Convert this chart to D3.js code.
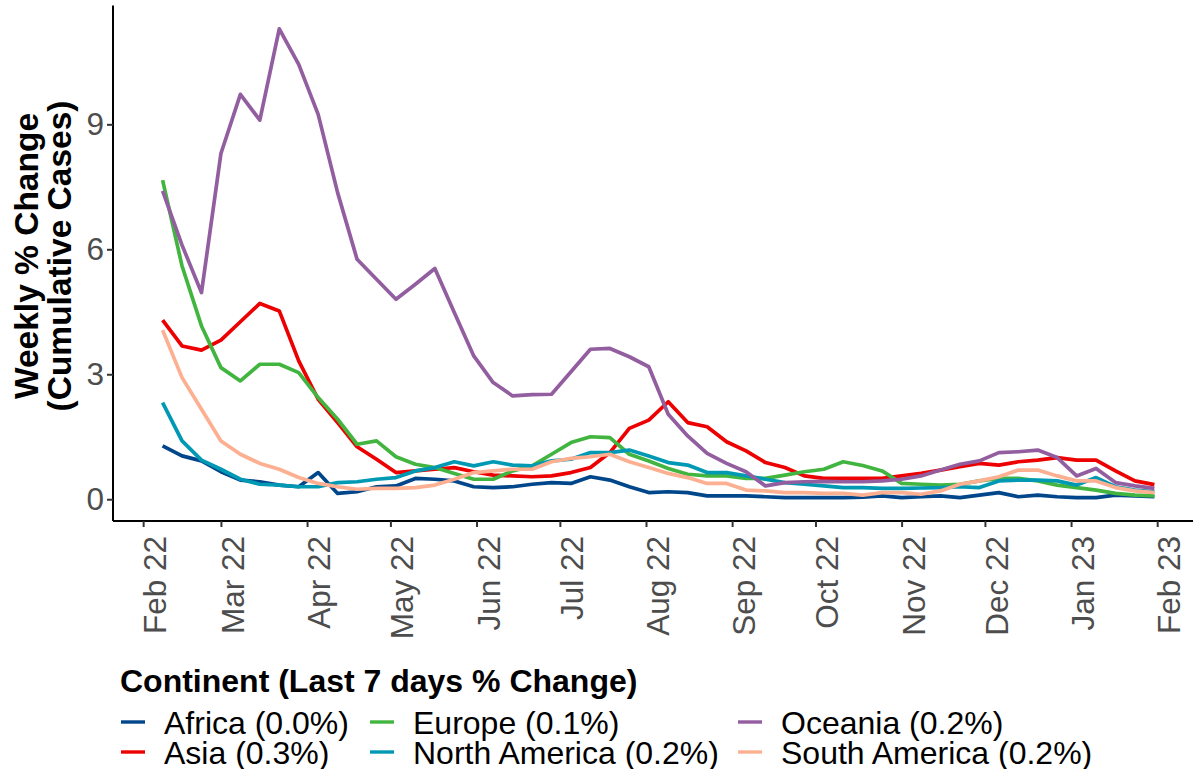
<!DOCTYPE html>
<html>
<head>
<meta charset="utf-8">
<script src="https://cdn.jsdelivr.net/npm/d3@7"></script>
<style>
	body {margin: 0; background: #fff;}
	text {font-family: "Liberation Sans", Arial, sans-serif;}
</style>
</head>
<body>
<script>
//weekly dates (week ending)
var weeks = ["2022-02-08","2022-02-15","2022-02-22","2022-03-01","2022-03-08","2022-03-15","2022-03-22","2022-03-29",
	"2022-04-05","2022-04-12","2022-04-19","2022-04-26","2022-05-03","2022-05-10","2022-05-17","2022-05-24","2022-05-31",
	"2022-06-07","2022-06-14","2022-06-21","2022-06-28","2022-07-05","2022-07-12","2022-07-19","2022-07-26",
	"2022-08-02","2022-08-09","2022-08-16","2022-08-23","2022-08-30","2022-09-06","2022-09-13","2022-09-20","2022-09-27",
	"2022-10-04","2022-10-11","2022-10-18","2022-10-25","2022-11-01","2022-11-08","2022-11-15","2022-11-22","2022-11-29",
	"2022-12-06","2022-12-13","2022-12-20","2022-12-27","2023-01-03","2023-01-10","2023-01-17","2023-01-24","2023-01-31"];

var continents = ["Africa", "Asia", "Europe", "North America", "Oceania", "South America"];
var lastChange = ["0.0%", "0.3%", "0.1%", "0.2%", "0.2%", "0.2%"];
var colors = ["#00468B", "#ED0000", "#42B540", "#0099B4", "#925E9F", "#FDAF91"];

//weekly % change of cumulative cases
var africa = [1.28,1.04,0.92,0.66,0.46,0.42,0.34,0.30,0.64,0.14,0.18,0.30,0.32,0.50,0.48,0.44,0.30,0.28,0.30,0.36,
	0.40,0.38,0.54,0.46,0.30,0.16,0.18,0.16,0.08,0.08,0.08,0.06,0.04,0.04,0.04,0.04,0.05,0.08,0.04,0.06,
	0.08,0.04,0.10,0.16,0.06,0.10,0.06,0.04,0.04,0.10,0.08,0.06];
var asia = [4.30,3.68,3.58,3.82,4.26,4.70,4.52,3.32,2.40,1.84,1.26,0.96,0.64,0.68,0.72,0.76,0.66,0.58,0.56,0.54,
	0.56,0.64,0.76,1.12,1.70,1.90,2.34,1.84,1.74,1.38,1.16,0.88,0.76,0.56,0.50,0.50,0.50,0.50,0.56,0.62,
	0.70,0.78,0.86,0.82,0.90,0.94,1.00,0.94,0.94,0.68,0.44,0.35];
var europe = [7.66,5.60,4.16,3.16,2.84,3.24,3.24,3.04,2.44,1.92,1.32,1.40,1.02,0.84,0.76,0.62,0.48,0.48,0.68,0.80,
	1.08,1.36,1.50,1.48,1.08,0.92,0.74,0.60,0.56,0.56,0.50,0.50,0.58,0.66,0.72,0.90,0.81,0.68,0.38,0.36,
	0.34,0.36,0.44,0.50,0.50,0.44,0.34,0.28,0.22,0.14,0.10,0.08];
var northAmerica = [2.32,1.40,0.94,0.72,0.48,0.36,0.34,0.30,0.30,0.40,0.42,0.48,0.52,0.68,0.76,0.90,0.80,0.90,0.82,0.80,
	0.92,0.96,1.12,1.12,1.18,1.04,0.88,0.82,0.64,0.64,0.56,0.48,0.40,0.36,0.32,0.28,0.28,0.26,0.26,0.27,
	0.28,0.30,0.28,0.44,0.46,0.46,0.44,0.34,0.52,0.30,0.22,0.18];
var oceania = [7.40,6.10,4.96,8.30,9.72,9.10,11.29,10.44,9.24,7.36,5.76,5.28,4.80,5.16,5.54,4.48,3.44,2.80,2.48,2.51,
	2.52,3.06,3.60,3.62,3.42,3.18,2.04,1.52,1.10,0.86,0.66,0.32,0.40,0.42,0.43,0.42,0.42,0.44,0.48,0.56,
	0.70,0.84,0.92,1.12,1.14,1.18,1.00,0.56,0.74,0.40,0.32,0.26];
var southAmerica = [4.06,2.92,2.16,1.40,1.08,0.86,0.72,0.52,0.38,0.30,0.24,0.26,0.26,0.28,0.34,0.48,0.64,0.68,0.72,0.72,
	0.90,0.98,1.02,1.08,0.90,0.76,0.62,0.52,0.38,0.38,0.22,0.20,0.16,0.16,0.14,0.14,0.10,0.16,0.16,0.12,
	0.20,0.36,0.44,0.54,0.70,0.70,0.56,0.44,0.44,0.28,0.20,0.16];

var yTicks = [0, 3, 6, 9];

var seriesValues = [africa, asia, europe, northAmerica, oceania, southAmerica];

(function(){
	//chart frame
	var width = 1193,
		height = 769,
		panelLeft = 113,
		panelTop = 5.5,
		panelBottom = 521,
		panelRight = 1204; //panel runs a little past the picture edge

	var parseDate = d3.timeParse("%Y-%m-%d");
	var dates = weeks.map(parseDate);

	var series = continents.map(function(c, i){
		return {name: c, color: colors[i], change: lastChange[i], values: seriesValues[i].map(function(v, j){
			return {date: dates[j], value: v};
		})};
	});

	//5% padding like the original
	var xExtent = d3.extent(dates),
		xPad = (xExtent[1] - xExtent[0]) * 0.05;
	var x = d3.scaleTime()
		.domain([new Date(+xExtent[0] - xPad), new Date(+xExtent[1] + xPad)])
		.range([panelLeft, panelRight]);

	var allVals = d3.merge(seriesValues);
	var yMin = d3.min(allVals), yMax = d3.max(allVals), yPad = (yMax - yMin) * 0.05;
	var y = d3.scaleLinear()
		.domain([yMin - yPad, yMax + yPad])
		.range([panelBottom, panelTop]);

	var svg = d3.select("body")
		.append("svg")
		.attr("width", width)
		.attr("height", height);

	var line = d3.line()
		.x(function(d){ return x(d.date); })
		.y(function(d){ return y(d.value); });

	svg.selectAll(".series")
		.data(series)
		.enter()
		.append("path")
		.attr("class", "series")
		.attr("d", function(d){ return line(d.values); })
		.attr("fill", "none")
		.attr("stroke", function(d){ return d.color; })
		.attr("stroke-width", 3.7)
		.attr("stroke-linejoin", "round");

	//y axis
	var yAxis = svg.append("g")
		.attr("transform", "translate(" + panelLeft + ",0)")
		.call(d3.axisLeft(y).tickValues(yTicks).tickSize(6).tickPadding(3).tickFormat(d3.format("d")));

	yAxis.select(".domain").attr("stroke", "#000").attr("stroke-width", 2)
		.attr("d", "M0," + panelBottom + "V" + panelTop);
	yAxis.selectAll(".tick line").attr("stroke", "#333").attr("stroke-width", 2);
	yAxis.selectAll(".tick text")
		.attr("fill", "#4D4D4D")
		.style("font-size", "31.5px")
		.style("font-family", "Liberation Sans, Arial, sans-serif");

	//x axis
	var xAxis = svg.append("g")
		.attr("transform", "translate(0," + panelBottom + ")")
		.call(d3.axisBottom(x).ticks(d3.timeMonth.every(1)).tickSize(6).tickFormat(d3.timeFormat("%b %y")));

	xAxis.select(".domain").attr("stroke", "#000").attr("stroke-width", 2)
		.attr("d", "M" + panelLeft + ",0H" + panelRight);
	xAxis.selectAll(".tick line").attr("stroke", "#333").attr("stroke-width", 2);
	xAxis.selectAll(".tick text")
		.attr("fill", "#4D4D4D")
		.attr("transform", "rotate(-90)")
		.attr("text-anchor", "end")
		.attr("x", -15)
		.attr("y", 22.5)
		.attr("dy", null)
		.style("font-size", "31.5px")
		.style("font-family", "Liberation Sans, Arial, sans-serif");

	//y axis title
	var yTitle = svg.append("text")
		.attr("transform", "translate(0,256) rotate(-90)")
		.attr("text-anchor", "middle")
		.style("font-size", "33.5px")
		.style("font-weight", "bold");
	yTitle.append("tspan").attr("x", 0).attr("y", 38).text("Weekly % Change");
	yTitle.append("tspan").attr("x", 0).attr("y", 71).text("(Cumulative Cases)");

	//legend
	svg.append("text")
		.attr("x", 120)
		.attr("y", 692)
		.style("font-size", "32px")
		.style("font-weight", "bold")
		.text("Continent (Last 7 days % Change)");

	var colX = [121, 370, 738],
		rowY = [722, 752];

	var legend = svg.selectAll(".legendItem")
		.data(series)
		.enter()
		.append("g")
		.attr("class", "legendItem")
		.attr("transform", function(d, i){
			return "translate(" + colX[Math.floor(i / 2)] + "," + rowY[i % 2] + ")";
		});

	legend.append("line")
		.attr("x1", 0)
		.attr("x2", 24)
		.attr("stroke", function(d){ return d.color; })
		.attr("stroke-width", 3.4);

	legend.append("text")
		.attr("x", 43)
		.attr("y", 11.5)
		.style("font-size", "32px")
		.attr("fill", "#000")
		.text(function(d){ return d.name + " (" + d.change + ")"; });
})();
</script>
</body>
</html>
